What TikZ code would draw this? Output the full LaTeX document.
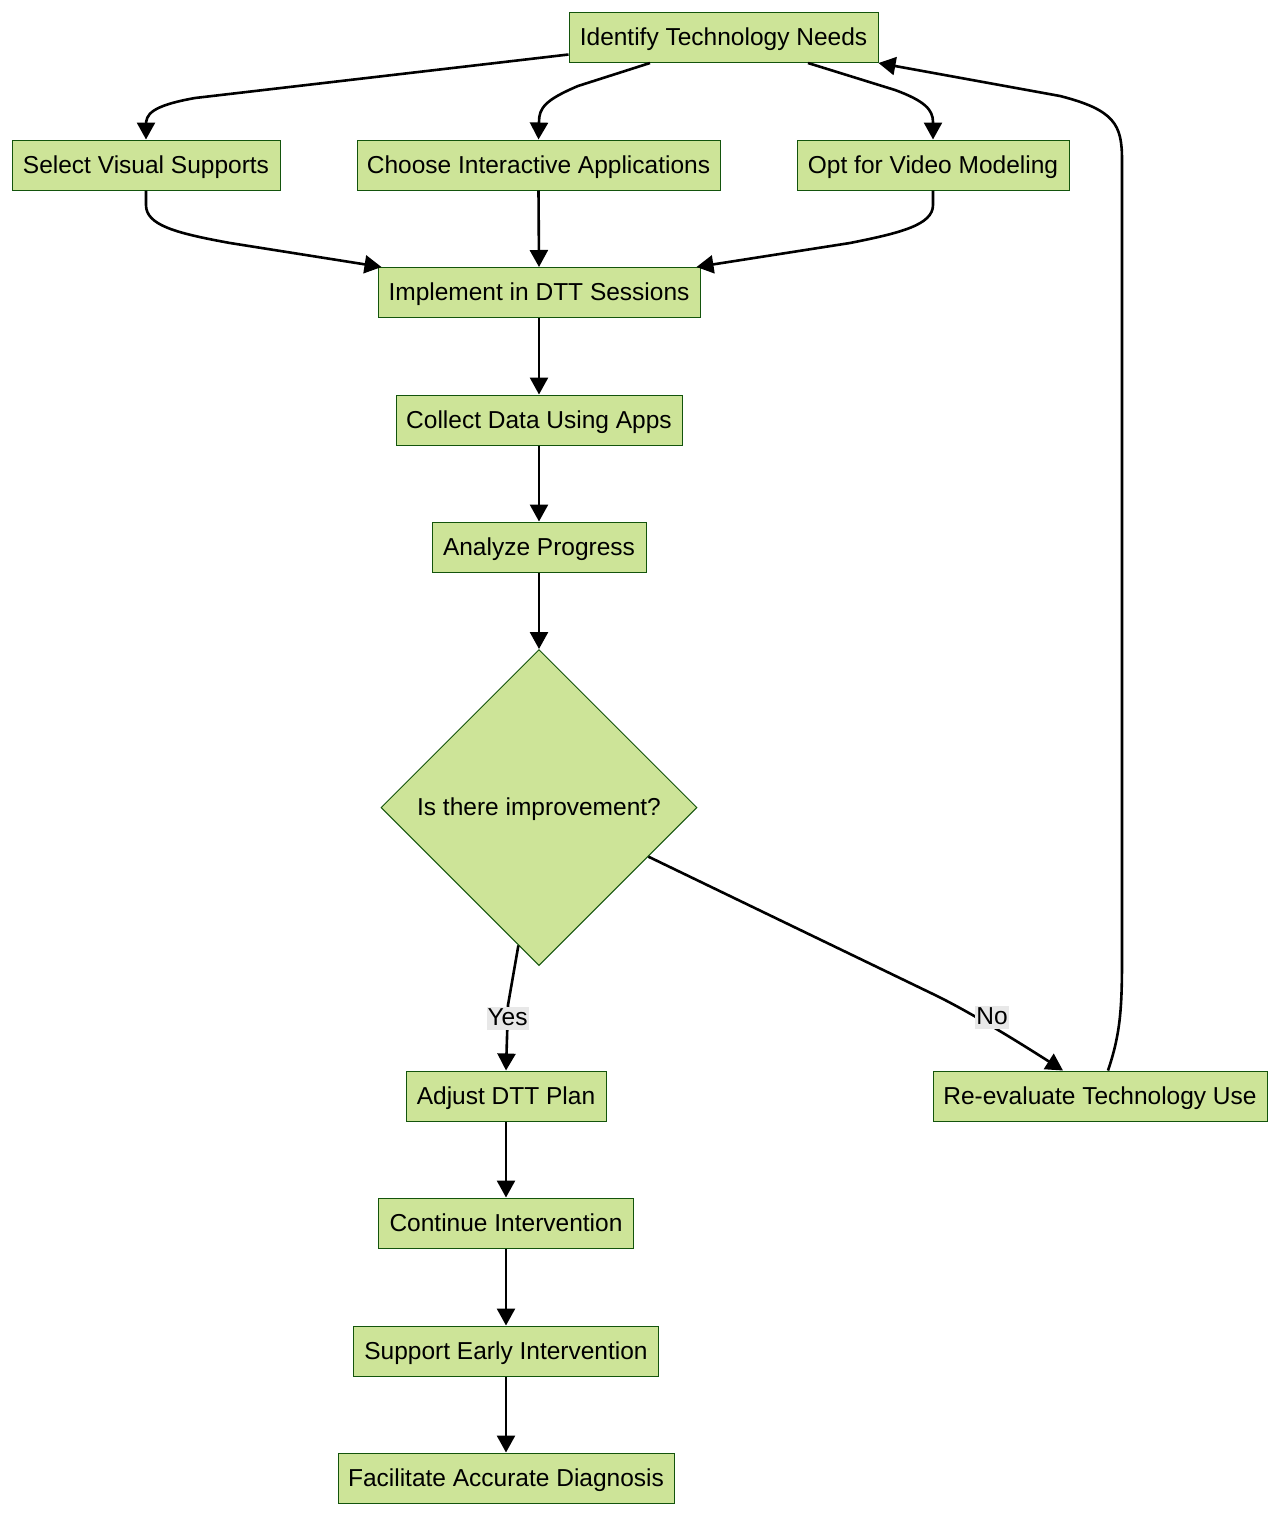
\documentclass[tikz,border=0pt]{standalone}
\usepackage{fontspec}
\setmainfont{Liberation Sans}
\usetikzlibrary{arrows.meta,shapes.geometric,calc}
\definecolor{nodefill}{HTML}{CDE498}
\definecolor{nodeline}{HTML}{13540C}
\definecolor{lblbg}{HTML}{E8E8E8}
\begin{document}
\begin{tikzpicture}[x=1pt,y=-1pt,
  box/.style={draw=nodeline,fill=nodefill,line width=1pt,rectangle,minimum height=50pt,inner sep=0pt,text height=18.5pt,text depth=2.5pt,font=\fontsize{24.5}{28}\selectfont},
  dia/.style={draw=nodeline,fill=nodefill,line width=1pt,diamond,minimum width=316pt,minimum height=316pt,inner sep=0pt,text height=18.5pt,text depth=2.5pt,font=\fontsize{24.5}{28}\selectfont},
  conn/.style={line width=2.6pt,-{Triangle[length=17pt,width=18pt]},line join=round},
  lbl/.style={fill=lblbg,inner sep=1pt,text height=17.5pt,text depth=3.5pt,font=\fontsize{24.5}{28}\selectfont}]
\useasboundingbox (0,0) rectangle (1280,1516);
\node[box,minimum width=309pt] (id) at (723.5,37.5) {Identify Technology Needs};
\node[box,minimum width=268pt] (sel) at (146,165) {Select Visual Supports};
\node[box,minimum width=363pt] (cho) at (538.5,165) {Choose Interactive Applications};
\node[box,minimum width=272pt] (opt) at (933,165) {Opt for Video Modeling};
\node[box,minimum width=322pt] (imp) at (539,292.5) {Implement in DTT Sessions};
\node[box,minimum width=286pt] (col) at (539,420) {Collect Data Using Apps};
\node[box,minimum width=214pt] (ana) at (539,547) {Analyze Progress};
\node[dia] (dec) at (539,807.5) {Is there improvement?};
\node[box,minimum width=200pt] (adj) at (506,1096) {Adjust DTT Plan};
\node[box,minimum width=334pt] (ree) at (1100,1096) {Re-evaluate Technology Use};
\node[box,minimum width=255pt] (con) at (506,1223) {Continue Intervention};
\node[box,minimum width=305pt] (sup) at (506,1351) {Support Early Intervention};
\node[box,minimum width=336pt] (fac) at (506,1478) {Facilitate Accurate Diagnosis};
% top fan-out
\draw[conn] ([yshift=-17pt]id.west) -- (195,98) .. controls (150,106) and (146,115) .. (146,125) -- (sel.north);
\draw[conn] ([xshift=-73.5pt]id.south) -- (578,86) .. controls (545,100) and (539,108) .. (539,122) -- (cho.north);
\draw[conn] ([xshift=84.5pt]id.south) -- (895,90) .. controls (925,101) and (933,110) .. (933,122) -- (opt.north);
% fan-in
\draw[conn] (sel.south) -- (146,205) .. controls (146,225) and (175,233) .. (230,243) -- ([xshift=4pt]imp.north west);
\draw[conn] (cho.south) -- (imp.north);
\draw[conn] (opt.south) -- (933,205) .. controls (933,225) and (900,233) .. (850,243) -- ([xshift=-4pt]imp.north east);
% chain
\draw[conn] (imp.south) -- (col.north);
\draw[conn] (col.south) -- (ana.north);
\draw[conn] (ana.south) -- (dec.north);
\draw[conn] (adj.south) -- (con.north);
\draw[conn] (con.south) -- (sup.north);
\draw[conn] (sup.south) -- (fac.north);
% decision
\draw[conn] ($(dec.south)!0.13!(dec.west)$) -- (508,1005) -- node[lbl,pos=0.2]{Yes} (adj.north);
\draw[conn] ($(dec.east)!0.31!(dec.south)$) -- (935,995) .. controls (970,1012) and (1020,1043) .. ([xshift=-37pt]ree.north);
\node[lbl] (nolbl) at (992,1017) {No};
% loop back
\draw[conn] ([xshift=8pt]ree.north) .. controls (1120,1035) and (1122,1010) .. (1122,960) -- (1122,160) .. controls (1122,125) and (1115,110) .. (1060,96) -- (id.north east |- 0,63);
\end{tikzpicture}
\end{document}
